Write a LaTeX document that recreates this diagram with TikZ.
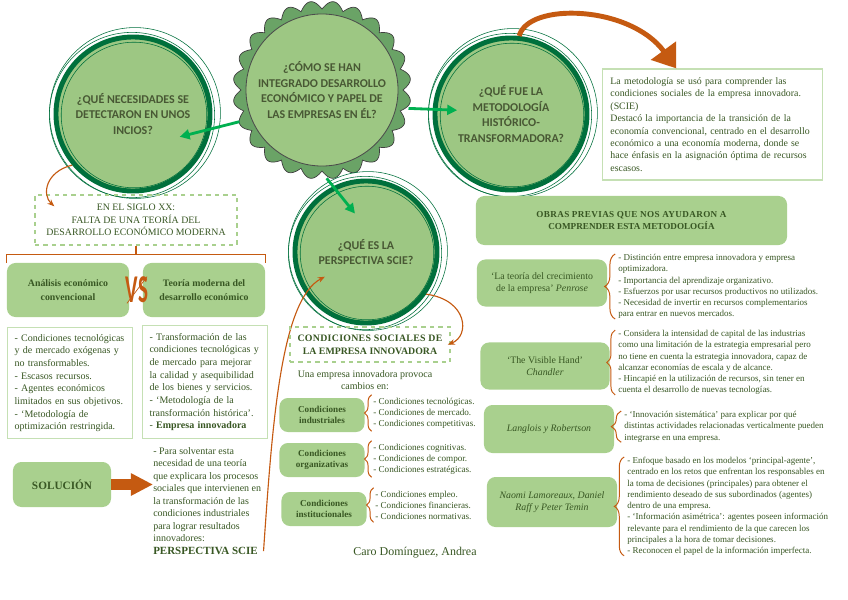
\documentclass[tikz,border=0pt]{standalone}
\usepackage{fontspec}
\setmainfont{Liberation Serif}
\newfontfamily\headfont{Carlito}
\usetikzlibrary{arrows.meta, positioning, calc, decorations.pathreplacing}
\definecolor{ringgreen}{RGB}{0,112,60}
\definecolor{circfill}{RGB}{157,199,131}
\definecolor{scallop}{RGB}{106,163,102}
\definecolor{boxgreen}{RGB}{169,208,142}
\definecolor{linegreen}{RGB}{197,224,180}
\definecolor{txtgreen}{RGB}{56,87,35}
\definecolor{headtxt}{RGB}{72,88,52}
\definecolor{arrgreen}{RGB}{0,176,80}
\definecolor{rust}{RGB}{197,90,17}

\begin{document}
\begin{tikzpicture}[x=0.025cm, y=-0.025cm,
    qcirc/.style={circle, fill=circfill, draw=ringgreen, line width=3.5pt, text=headtxt,
                  align=center, inner sep=0pt, font=\headfont\bfseries\fontsize{8.5}{11.3}\selectfont},
    ring/.style={ringgreen, line width=0.4pt},
    gbox/.style={fill=boxgreen, rounded corners=6pt, text=txtgreen, align=center, inner sep=2pt},
    wbox/.style={draw=linegreen, line width=0.8pt, fill=white, text=txtgreen, align=left},
    dbox/.style={draw=boxgreen, dashed, line width=1pt, text=txtgreen, align=center},
    list/.style={text=txtgreen, align=left, inner sep=0pt, anchor=north west},
    garr/.style={-{Triangle[length=7pt,width=7pt]}, arrgreen, line width=2pt},
    oarr/.style={-{Stealth[length=5pt,width=4pt]}, rust, line width=0.8pt},
    obr/.style={rust, line width=0.8pt},
    brc/.style={decorate, decoration={brace, amplitude=#1}, rust, line width=0.7pt},
    brc/.default=7pt
]
  \path[use as bounding box, fill=white] (0,0) rectangle (848,599);

  % central question with scalloped edge
  \filldraw[fill=scallop, draw=black!75, line width=0.5pt]
    plot[domain=0:360, samples=481] ({322+(81+8*abs(sin(12*\x)))*cos(\x)}, {90+(81+8*abs(sin(12*\x)))*sin(\x)}) -- cycle;
  \node[qcirc, minimum size=3.8cm, draw=black!70, line width=0.6pt] (how) at (322,90)
    {¿CÓMO SE HAN\\INTEGRADO DESARROLLO\\ECONÓMICO Y PAPEL DE\\LAS EMPRESAS EN ÉL?};

  % question circles
  \node[qcirc, minimum size=3.85cm] (q1) at (133,114) {¿QUÉ NECESIDADES SE\\DETECTARON EN UNOS\\INCIOS?};
  \node[qcirc, minimum size=3.8cm] (q3) at (511,114) {¿QUÉ FUE LA\\METODOLOGÍA\\HISTÓRICO-\\TRANSFORMADORA?};
  \node[qcirc, minimum size=3.55cm] (q4) at (366,252) {¿QUÉ ES LA\\PERSPECTIVA SCIE?};
  \foreach \n/\rad in {q1/77, q3/76, q4/71} {
    \draw[ring] ([shift={(-1,1)}]\n.center) circle[radius={\rad*0.025cm+4pt}];
    \draw[ring] ([shift={(2,-1)}]\n.center) circle[radius={\rad*0.025cm+6pt}];
    \draw[ring] ([shift={(1,1)}]\n.center) circle[radius={\rad*0.025cm-3pt}];
  }

  % green arrows
  \draw[garr] ([shift={(201:0.3cm)}]how.201) -- ($(q1.center)+(-26:1.3cm)$);
  \draw[garr] ([shift={(-12:0.3cm)}]how.-12) -- ($(q3.center)+(176:1.35cm)$);
  \draw[garr] ([shift={(-87:0.3cm)}]how.-87) -- ($(q4.center)+(106:1.0cm)$);

  % methodology
  \node[wbox, text width=5.1cm, inner xsep=0.19cm, minimum height=2.775cm,
        font=\fontsize{7}{8.8}\selectfont] (meth) at (712.5,124.5)
    {La metodología se usó para comprender las\\
     condiciones sociales de la empresa innovadora.\\
     (SCIE)\\
     Destacó la importancia de la transición de la\\
     economía convencional, centrado en el desarrollo\\
     económico a una economía moderna, donde se\\
     hace énfasis en la asignación óptima de recursos\\
     escasos.};
  \draw[rust, line width=3.5pt, -{Triangle[length=0.55cm,width=0.75cm]}]
    (q3.84) .. controls (528,2) and (630,5) .. ([xshift=1.85cm]meth.north west);

  % left side
  \node[dbox, minimum width=5.05cm, minimum height=1.25cm, font=\fontsize{7}{8.9}\selectfont] (xx) at (136,220)
    {EN EL SIGLO XX:\\FALTA DE UNA TEORÍA DEL\\DESARROLLO ECONÓMICO MODERNA};
  \draw[oarr] (q1.220) .. controls (45,172) and (42,195) .. ([shift={(0.5cm,-0.3cm)}]xx.north west);

  \node[gbox, minimum width=3.05cm, minimum height=1.35cm, font=\bfseries\fontsize{7}{9.5}\selectfont] (ana) at (68,290)
    {Análisis económico\\convencional};
  \node[gbox, minimum width=3.05cm, minimum height=1.35cm, font=\bfseries\fontsize{7}{9.5}\selectfont] (teo) at (204,290)
    {Teoría moderna del\\desarrollo económico};
  \node[rust, inner sep=0pt, font=\headfont\bfseries\fontsize{20}{20}\selectfont] (vs) at (137,290) {\scalebox{0.75}[1.4]{VS}};
  \draw[rust, line width=0.5pt] ([xshift=-1pt]vs.north east) -- ([xshift=1pt]vs.south west);
  \draw[obr] (ana.north west) -- ++(0,-8) coordinate (barl) -| (teo.north east);
  \draw[obr] (xx.south) -- (xx.south |- barl);

  \node[wbox, anchor=north west, text width=2.775cm, inner xsep=0.175cm, minimum height=2.775cm,
        font=\fontsize{7.1}{9}\selectfont] (conv) at (7,327)
    {- Condiciones tecnológicas\\
     y de mercado exógenas y\\
     no transformables.\\
     - Escasos recursos.\\
     - Agentes económicos\\
     limitados en sus objetivos.\\
     - ‘Metodología de\\
     optimización restringida.};
  \node[wbox, anchor=north west, text width=2.775cm, inner xsep=0.175cm, minimum height=2.825cm,
        font=\fontsize{7.1}{9}\selectfont] (mod) at (142,325)
    {- Transformación de las\\
     condiciones tecnológicas y\\
     de mercado para mejorar\\
     la calidad y asequibilidad\\
     de los bienes y servicios.\\
     - ‘Metodología de la\\
     transformación histórica’.\\
     - \textbf{Empresa innovadora}};

  % solution
  \node[gbox, minimum width=2.45cm, minimum height=1.125cm, font=\bfseries\fontsize{8}{10}\selectfont] (sol) at (62,484.5) {SOLUCIÓN};
  \node[list, font=\fontsize{7.1}{8.9}\selectfont] (soltext) at (153,447)
    {- Para solventar esta\\
     necesidad de una teoría\\
     que explicara los procesos\\
     sociales que intervienen en\\
     la transformación de las\\
     condiciones industriales\\
     para lograr resultados\\
     innovadores:};
  \node[list, font=\bfseries\fontsize{7.8}{9}\selectfont] (scie) at ([yshift=-3.5pt]soltext.south west) {PERSPECTIVA SCIE};
  \draw[rust, line width=7.7pt, -{Triangle[length=0.55cm,width=0.525cm]}] (sol.east) -- (sol.east -| soltext.west);
  \draw[oarr] ([xshift=4pt]scie.east) .. controls (272,430) and (280,300) .. ($(q4.center)+(211:1.2cm)$);

  % centre column
  \node[dbox, minimum width=4cm, minimum height=0.875cm, font=\bfseries\fontsize{7}{9}\selectfont] (csoc) at (370,344.5)
    {\addfontfeature{LetterSpace=3}CONDICIONES SOCIALES DE\\LA EMPRESA INNOVADORA};
  \draw[oarr] (q4.-35) .. controls (468,300) and (470,336) .. ([xshift=-2pt]csoc.east);
  \node[text=txtgreen, align=center, font=\fontsize{7.1}{8.5}\selectfont] (prov) at (365,380)
    {Una empresa innovadora provoca\\cambios en:};

  \node[gbox, minimum width=2.125cm, minimum height=0.85cm, font=\bfseries\fontsize{6.5}{8}\selectfont] (ind) at (322,415) {Condiciones\\industriales};
  \node[gbox, minimum width=2.125cm, minimum height=0.85cm, font=\bfseries\fontsize{6.5}{8}\selectfont] (org) at (322,460) {Condiciones\\organizativas};
  \node[gbox, minimum width=2.125cm, minimum height=0.85cm, font=\bfseries\fontsize{6.5}{8}\selectfont] (ins) at (324,509) {Condiciones\\institucionales};

  \node[list, anchor=west, font=\fontsize{6.5}{7.8}\selectfont] (lind) at (373,413)
    {- Condiciones tecnológicas.\\- Condiciones de mercado.\\- Condiciones competitivas.};
  \node[list, anchor=west, font=\fontsize{6.5}{7.8}\selectfont] (lorg) at (373,459)
    {- Condiciones cognitivas.\\- Condiciones de compor.\\- Condiciones estratégicas.};
  \node[list, anchor=west, font=\fontsize{6.5}{7.8}\selectfont] (lins) at (375,505)
    {- Condiciones empleo.\\- Condiciones financieras.\\- Condiciones normativas.};
  \foreach \l in {lind, lorg, lins}
    \draw[brc=5pt] ([xshift=-1pt,yshift=-2pt]\l.south west) -- ([xshift=-1pt,yshift=2pt]\l.north west);

  \node[text=txtgreen, font=\fontsize{8.5}{10}\selectfont] (auth) at (415,553) {Caro Domínguez, Andrea};

  % right column
  \node[gbox, minimum width=7.775cm, minimum height=1.225cm, font=\bfseries\fontsize{6.5}{8.5}\selectfont] (obras) at (631.5,220.5)
    {\addfontfeature{LetterSpace=4}OBRAS PREVIAS QUE NOS AYUDARON A\\COMPRENDER ESTA METODOLOGÍA};

  \node[gbox, minimum width=3.25cm, minimum height=1.175cm, font=\fontsize{7}{9}\selectfont] (pen) at (542,283)
    {‘La teoría del crecimiento\\de la empresa’ \textit{Penrose}};
  \node[gbox, minimum width=3.225cm, minimum height=1.175cm, font=\fontsize{7}{9}\selectfont] (chan) at (545,366)
    {‘The Visible Hand’\\\textit{Chandler}};
  \node[gbox, minimum width=3.25cm, minimum height=1.2cm, font=\fontsize{7}{9}\selectfont] (lang) at (549,429)
    {\textit{Langlois y Robertson}};
  \node[gbox, minimum width=3.25cm, minimum height=1.25cm, font=\fontsize{7}{9}\selectfont] (lam) at (552,502)
    {\textit{Naomi Lamoreaux, Daniel}\\\textit{Raff y Peter Temin}};

  \node[list, font=\fontsize{6.4}{8}\selectfont] (lpen) at (618,254)
    {- Distinción entre empresa innovadora y empresa\\
     optimizadora.\\
     - Importancia del aprendizaje organizativo.\\
     - Esfuerzos por usar recursos productivos no utilizados.\\
     - Necesidad de invertir en recursos complementarios\\
     para entrar en nuevos mercados.};
  \node[list, font=\fontsize{6.4}{8}\selectfont] (lchan) at (618,330)
    {- Considera la intensidad de capital de las industrias\\
     como una limitación de la estrategia empresarial pero\\
     no tiene en cuenta la estrategia innovadora, capaz de\\
     alcanzar economías de escala y de alcance.\\
     - Hincapié en la utilización de recursos, sin tener en\\
     cuenta el desarrollo de nuevas tecnologías.};
  \node[list, font=\fontsize{6.4}{8}\selectfont] (llang) at (624,411)
    {- ‘Innovación sistemática’ para explicar por qué\\
     distintas actividades relacionadas verticalmente pueden\\
     integrarse en una empresa.};
  \node[list, font=\fontsize{6.4}{8}\selectfont] (llam) at (627,457)
    {- Enfoque basado en los modelos ‘principal-agente’,\\
     centrado en los retos que enfrentan los responsables en\\
     la toma de decisiones (principales) para obtener el\\
     rendimiento deseado de sus subordinados (agentes)\\
     dentro de una empresa.\\
     - ‘Información asimétrica’: agentes poseen información\\
     relevante para el rendimiento de la que carecen los\\
     principales a la hora de tomar decisiones.\\
     - Reconocen el papel de la información imperfecta.};
  \draw[brc=7.5pt] ([xshift=-2pt]lpen.south west) -- ([xshift=-2pt]lpen.north west);
  \draw[brc=6pt] ([xshift=-2pt]lchan.south west) -- ([xshift=-2pt]lchan.north west);
  \draw[brc=7pt] ([xshift=-2pt]llang.south west) -- ([xshift=-2pt]llang.north west);
  \draw[brc=7pt] ([xshift=-2pt]llam.south west) -- ([xshift=-2pt]llam.north west);
\end{tikzpicture}
\end{document}
